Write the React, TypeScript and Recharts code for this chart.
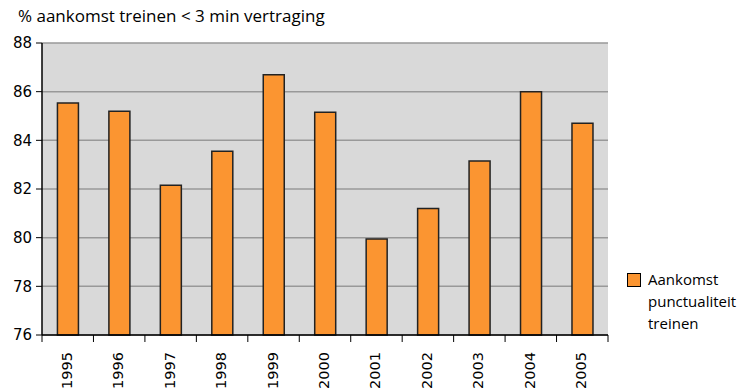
import { BarChart, Bar, XAxis, YAxis, CartesianGrid } from 'recharts';

// jaren en punctualiteit (% aankomst < 3 min vertraging)
const years = ['1995', '1996', '1997', '1998', '1999', '2000', '2001', '2002', '2003', '2004', '2005'];
const punctuality = [85.53, 85.2, 82.15, 83.55, 86.7, 85.15, 79.95, 81.2, 83.15, 86.0, 84.7];
const yTicks = [76, 78, 80, 82, 84, 86, 88];

const title = '% aankomst treinen < 3 min vertraging';
const legendLines = ['Aankomst', 'punctualiteit', 'treinen'];

const data = years.map((year, i) => ({ year, value: punctuality[i] }));

const sans = '"Open Sans", "DejaVu Sans", sans-serif';

function YearTick(props: any) {
  const { x, y, payload, index } = props;
  const half = payload?.offset || 25.7;
  return (
    <g>
      {index === 0 && <line x1={x - half} x2={x - half} y1={y - 8} y2={y - 1} stroke="#000" />}
      <line x1={x + half} x2={x + half} y1={y - 8} y2={y - 1} stroke="#000" />
      <text
        transform={`translate(${x - 1}, ${y + 9}) rotate(-90)`}
        textAnchor="end"
        dominantBaseline="central"
        fontSize={14.5}
        fontFamily='"DejaVu Sans", sans-serif'
        fill="#000"
      >
        {payload.value}
      </text>
    </g>
  );
}

export default function App() {
  return (
    <div style={{ position: 'absolute', left: 0, top: 0, width: 742, height: 389, background: '#fff' }}>
      <div
        style={{
          position: 'absolute',
          left: 18,
          top: 4,
          fontFamily: sans,
          fontSize: 17,
          color: '#000',
          whiteSpace: 'nowrap',
        }}
      >
        {title}
      </div>
      <BarChart
        width={742}
        height={389}
        data={data}
        margin={{ top: 43, right: 134, left: 0, bottom: 0 }}
        barCategoryGap="30%"
      >
        <CartesianGrid vertical={false} stroke="#999" fill="#d9d9d9" strokeWidth={1.5} />
        <XAxis
          dataKey="year"
          height={54}
          interval={0}
          tickLine={false}
          axisLine={{ stroke: '#000', strokeWidth: 1.5 }}
          tick={<YearTick />}
        />
        <XAxis
          xAxisId="top"
          dataKey="year"
          orientation="top"
          height={0}
          tick={false}
          tickLine={false}
          axisLine={{ stroke: '#000', strokeWidth: 1.5 }}
        />
        <YAxis
          domain={[76, 88]}
          ticks={yTicks}
          width={42}
          interval={0}
          tickSize={6}
          tickMargin={4}
          tickLine={{ stroke: '#000' }}
          axisLine={{ stroke: '#000', strokeWidth: 1.5 }}
          tick={{ fill: '#000', fontSize: 15, fontFamily: '"DejaVu Sans", sans-serif' }}
        />
        <YAxis
          yAxisId="right"
          orientation="right"
          domain={[76, 88]}
          width={0}
          tick={false}
          tickLine={false}
          axisLine={{ stroke: '#000', strokeWidth: 1.5 }}
        />
        <Bar
          dataKey="value"
          fill="#fb9531"
          stroke="#222"
          strokeWidth={1.5}
          isAnimationActive={false}
        />
      </BarChart>
      <div style={{ position: 'absolute', left: 627, top: 273, fontFamily: sans, fontSize: 15, color: '#000' }}>
        <div
          style={{
            position: 'absolute',
            left: 0,
            top: 0,
            width: 12,
            height: 12,
            background: '#fb9531',
            border: '1px solid #000',
          }}
        />
        <div style={{ position: 'absolute', left: 21, top: -5, lineHeight: '22px', whiteSpace: 'nowrap' }}>
          {legendLines.map((l) => (
            <div key={l}>{l}</div>
          ))}
        </div>
      </div>
    </div>
  );
}
